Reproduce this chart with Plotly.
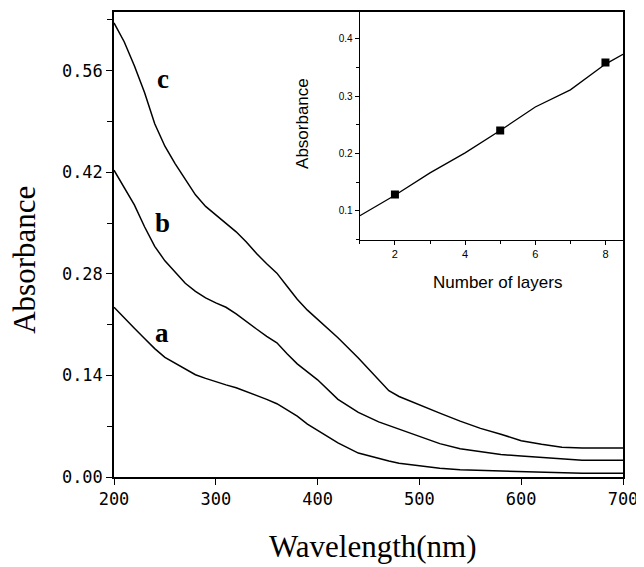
import plotly.graph_objects as go

# ---------------- data ----------------
wavelength = [200, 210, 220, 230, 240, 250, 260, 270, 280, 290, 300, 310, 320, 330, 340,
              350, 360, 370, 380, 390, 400, 420, 440, 460, 470, 480, 500, 520, 540, 560, 580,
              600, 620, 640, 660, 680, 700]
abs_c = [0.626, 0.600, 0.567, 0.530, 0.487, 0.456, 0.432, 0.410, 0.389, 0.373, 0.361, 0.350,
         0.338, 0.324, 0.308, 0.294, 0.281, 0.263, 0.245, 0.230, 0.217, 0.192, 0.164, 0.133,
         0.119, 0.111, 0.099, 0.088, 0.077, 0.067, 0.059, 0.050, 0.045, 0.041, 0.040, 0.040,
         0.040]
abs_b = [0.423, 0.399, 0.375, 0.345, 0.318, 0.298, 0.282, 0.267, 0.256, 0.247, 0.240, 0.234,
         0.225, 0.214, 0.204, 0.194, 0.185, 0.170, 0.156, 0.145, 0.134, 0.107, 0.089, 0.076,
         0.071, 0.066, 0.056, 0.046, 0.039, 0.035, 0.031, 0.029, 0.027, 0.025, 0.023, 0.023,
         0.023]
abs_a = [0.234, 0.219, 0.205, 0.191, 0.177, 0.165, 0.157, 0.149, 0.141, 0.136, 0.131, 0.127,
         0.123, 0.118, 0.112, 0.107, 0.101, 0.093, 0.084, 0.073, 0.064, 0.047, 0.033, 0.025,
         0.022, 0.019, 0.015, 0.012, 0.010, 0.009, 0.008, 0.007, 0.006, 0.006, 0.005, 0.005,
         0.005]
curve_labels = ["a", "b", "c"]
label_x = [247, 248, 248]
label_y = [0.199, 0.350, 0.548]

main_yticks = [0.00, 0.14, 0.28, 0.42, 0.56]
main_xticks = [200, 300, 400, 500, 600, 700]

layers = [2, 5, 8]
layer_abs = [0.128, 0.240, 0.359]
fit_layers = [1, 2, 3, 4, 5, 6, 7, 8, 8.5]
fit_abs = [0.091, 0.127, 0.166, 0.201, 0.240, 0.281, 0.311, 0.356, 0.373]
inset_xticks = [2, 4, 6, 8]
inset_yticks = [0.1, 0.2, 0.3, 0.4]

# ---------------- figure ----------------
fig = go.Figure()
line_style = dict(color="black", width=1.5)
for ys in (abs_a, abs_b, abs_c):
    fig.add_trace(go.Scatter(x=wavelength, y=ys, mode="lines", line=line_style,
                             showlegend=False, xaxis="x", yaxis="y"))

fig.add_trace(go.Scatter(x=fit_layers, y=fit_abs, mode="lines",
                         line=dict(color="black", width=1.3),
                         showlegend=False, xaxis="x2", yaxis="y2"))
fig.add_trace(go.Scatter(x=layers, y=layer_abs, mode="markers",
                         marker=dict(symbol="square", size=8, color="black"),
                         showlegend=False, xaxis="x2", yaxis="y2"))

tick_font = dict(family="DejaVu Sans Mono", size=17, color="black")

# page body has an 8px default margin, so the plot margins are compensated for it
fig.update_layout(
    width=644, height=567,
    margin=dict(l=106, r=29, t=4, b=98, autoexpand=False),
    plot_bgcolor="white", paper_bgcolor="white",
    xaxis=dict(domain=[0, 1], range=[200, 700], tickvals=main_xticks, automargin=False,
               ticks="outside", ticklen=6, tickwidth=1.2, tickcolor="black",
               showline=True, linecolor="black", linewidth=1.5, mirror=True,
               showgrid=False, zeroline=False, tickfont=tick_font),
    yaxis=dict(domain=[0, 1], range=[0, 0.641], tickvals=main_yticks, automargin=False,
               tickformat=".2f", ticks="outside", ticklen=6, tickwidth=1.2,
               tickcolor="black", showline=True, linecolor="black", linewidth=1.5,
               mirror=True, showgrid=False, zeroline=False, tickfont=tick_font,
               minor=dict(dtick=0.07, tick0=0, ticks="outside", ticklen=5,
                          tickcolor="black", tickwidth=1.2)),
    xaxis2=dict(domain=[0.483, 1.0], anchor="y2", range=[1, 8.5], tickvals=inset_xticks,
                automargin=False,
                ticks="outside", ticklen=4, tickwidth=1, tickcolor="black",
                showline=True, linecolor="black", linewidth=1.3, mirror=True,
                showgrid=False, zeroline=False,
                tickfont=dict(family="Liberation Sans", size=11, color="black"),
                minor=dict(tickvals=[1, 3, 5, 7], ticks="outside", ticklen=3,
                           tickcolor="black")),
    yaxis2=dict(domain=[0.51, 1.0], anchor="x2", range=[0.049, 0.447],
                tickvals=inset_yticks, tickformat=".1f", automargin=False,
                ticks="outside", ticklen=4, tickwidth=1, tickcolor="black",
                showline=True, linecolor="black", linewidth=1.3, mirror=True,
                showgrid=False, zeroline=False,
                tickfont=dict(family="Liberation Sans", size=10, color="black"),
                minor=dict(tickvals=[0.05, 0.15, 0.25, 0.35], ticks="outside",
                           ticklen=3, tickcolor="black")),
)

annotations = []
for t, xv, yv in zip(curve_labels, label_x, label_y):
    annotations.append(dict(x=xv, y=yv, xref="x", yref="y", text="<b>%s</b>" % t,
                            showarrow=False, xanchor="center", yanchor="middle",
                            font=dict(family="Liberation Serif", size=27, color="black")))
annotations.append(dict(x=-0.175, y=0.467, xref="paper", yref="paper", text="Absorbance",
                        textangle=-90, showarrow=False, xanchor="center", yanchor="middle",
                        font=dict(family="Liberation Serif", size=31, color="black")))
annotations.append(dict(x=0.509, y=-0.150, xref="paper", yref="paper",
                        text="Wavelength(nm)", showarrow=False,
                        xanchor="center", yanchor="middle",
                        font=dict(family="Liberation Serif", size=31, color="black")))
annotations.append(dict(x=0.369, y=0.761, xref="paper", yref="paper", text="Absorbance",
                        textangle=-90, showarrow=False, xanchor="center", yanchor="middle",
                        font=dict(family="Liberation Sans", size=17, color="black")))
annotations.append(dict(x=0.754, y=0.419, xref="paper", yref="paper",
                        text="Number of layers", showarrow=False,
                        xanchor="center", yanchor="middle",
                        font=dict(family="Liberation Sans", size=17, color="black")))
fig.update_layout(annotations=annotations)

fig.write_html("out.html")
